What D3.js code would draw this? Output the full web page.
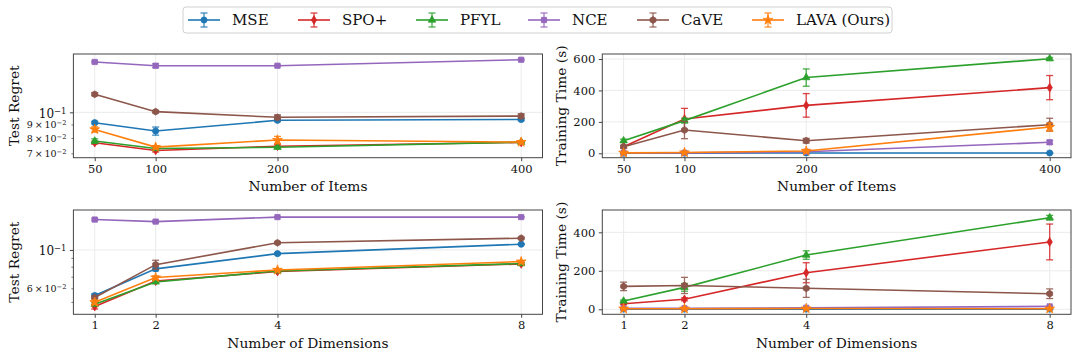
<!DOCTYPE html>
<html>
<head>
<meta charset="utf-8">
<script src="https://cdn.jsdelivr.net/npm/d3@7"></script>
<style>
  body { margin: 0; background: #fff; }
  svg { font-family: "DejaVu Serif", serif; }
</style>
</head>
<body>
<svg id="chart" width="1079" height="358"></svg>
<script>
// Categories and series
var items = [50, 100, 200, 400];
var dims = [1, 2, 4, 8];
var methods = ["MSE", "SPO+", "PFYL", "NCE", "CaVE", "LAVA (Ours)"];
var colors = ["#1f77b4", "#d62728", "#2ca02c", "#9467bd", "#8c564b", "#ff7f0e"];

// Test regret vs number of items (rows follow methods order)
var regretItems = [
  [0.0914, 0.0850, 0.0933, 0.0940],
  [0.0768, 0.0718, 0.0745, 0.0770],
  [0.0779, 0.0730, 0.0738, 0.0772],
  [0.155, 0.150, 0.150, 0.158],
  [0.117, 0.1006, 0.0958, 0.0968],
  [0.0862, 0.0739, 0.0786, 0.0772]
];
var regretItemsErr = [
  [0.001, 0.003, 0.001, 0.001],
  [0.001, 0.001, 0.001, 0.0005],
  [0.0015, 0.001, 0.0005, 0.0005],
  [0.001, 0.0025, 0.001, 0.001],
  [0.0015, 0.001, 0.002, 0.002],
  [0.002, 0.001, 0.0025, 0.001]
];

// Training time vs number of items
var timeItems = [
  [1, 1, 2, 2],
  [42, 218, 305, 418],
  [80, 208, 482, 602],
  [2, 3, 10, 70],
  [42, 148, 80, 182],
  [3, 5, 15, 167]
];
var timeItemsErr = [
  [0.5, 0.5, 1, 1],
  [8, 68, 75, 77],
  [10, 15, 55, 8],
  [1, 1, 2, 12],
  [8, 55, 15, 41],
  [1, 2, 8, 25]
];

// Test regret vs number of dimensions
var regretDims = [
  [0.0545, 0.0777, 0.0952, 0.108],
  [0.0470, 0.0660, 0.0750, 0.0830],
  [0.0485, 0.0653, 0.0756, 0.0834],
  [0.150, 0.146, 0.155, 0.155],
  [0.0530, 0.0822, 0.110, 0.117],
  [0.0498, 0.0692, 0.0766, 0.0856]
];
var regretDimsErr = [
  [0.0012, 0.002, 0.001, 0.0008],
  [0.0015, 0.001, 0.001, 0.001],
  [0.001, 0.001, 0.001, 0.001],
  [0.002, 0.002, 0.001, 0.001],
  [0.001, 0.005, 0.001, 0.001],
  [0.0015, 0.0015, 0.001, 0.001]
];

// Training time vs number of dimensions
var timeDims = [
  [1, 1, 1, 1],
  [29, 52, 190, 350],
  [43, 114, 282, 476],
  [5, 5, 8, 15],
  [119, 124, 109, 81],
  [3, 3, 4, 3]
];
var timeDimsErr = [
  [0.3, 0.3, 0.3, 0.3],
  [5, 8, 52, 93],
  [5, 20, 22, 12],
  [1, 1, 2, 3],
  [22, 42, 47, 25],
  [1, 1, 1, 1]
];

var svg = d3.select('#chart');

// Marker shapes (matplotlib-ish o, d, ^, s, h, *)
var hexagon = {
  draw: function(ctx, size) {
    var r = Math.sqrt(size / (1.5 * Math.sqrt(3)));
    for (var k = 0; k < 6; k++) {
      var a = Math.PI / 3 * k - Math.PI / 2;
      if (k === 0) ctx.moveTo(r * Math.cos(a), r * Math.sin(a));
      else ctx.lineTo(r * Math.cos(a), r * Math.sin(a));
    }
    ctx.closePath();
  }
};
var thinDiamond = {
  draw: function(ctx, size) {
    var r = Math.sqrt(size) * 0.75;
    ctx.moveTo(0, -r);
    ctx.lineTo(r * 0.6, 0);
    ctx.lineTo(0, r);
    ctx.lineTo(-r * 0.6, 0);
    ctx.closePath();
  }
};
var markerTypes = [d3.symbolCircle, thinDiamond, d3.symbolTriangle, d3.symbolSquare, hexagon, d3.symbolStar];
var markerSizes = [30, 34, 24, 28, 30, 30];

function drawMarker(sel, i, cx, cy) {
  sel.append('path')
    .attr('d', d3.symbol().type(markerTypes[i]).size(markerSizes[i])())
    .attr('transform', 'translate(' + cx + ',' + cy + ')')
    .attr('fill', colors[i])
    .attr('stroke', colors[i])
    .attr('stroke-width', 0.8);
}

// Superscript formatting for log ticks
function logLabel(textSel, v, fontSize) {
  var e = Math.floor(Math.log10(v) + 1e-9);
  var m = Math.round(v / Math.pow(10, e));
  textSel.attr('font-size', fontSize);
  textSel.append('tspan').text(m === 1 ? '10' : m + '\u2009\u00d7\u200910');
  textSel.append('tspan')
    .attr('dy', '-0.45em')
    .attr('font-size', fontSize * 0.7)
    .text('\u2212' + Math.abs(e));
}

var panels = [
  { left: 73.4, right: 542.5, top: 54, bottom: 157.7, xs: items, xdom: [32.5, 417.5],
    log: true, ydom: [0.0674, 0.1661], major: [0.1], minor: [0.07, 0.08, 0.09], minorLabels: true,
    data: regretItems, err: regretItemsErr, ylabel: 'Test Regret', ylabelX: 14, xlabel: 'Number of Items' },
  { left: 602.3, right: 1071, top: 54, bottom: 157.7, xs: items, xdom: [32.5, 417.5],
    log: false, ydom: [-28, 632], major: [0, 200, 400, 600],
    data: timeItems, err: timeItemsErr, ylabel: 'Training Time (s)', ylabelX: 561, xlabel: 'Number of Items' },
  { left: 73.4, right: 542.5, top: 210, bottom: 314.3, xs: dims, xdom: [0.65, 8.35],
    log: true, ydom: [0.0424, 0.1704], major: [0.1], minor: [0.05, 0.06, 0.07, 0.08, 0.09], minorLabels: false, labelOnly: [0.06],
    data: regretDims, err: regretDimsErr, ylabel: 'Test Regret', ylabelX: 14, xlabel: 'Number of Dimensions' },
  { left: 602.3, right: 1071, top: 210, bottom: 314.3, xs: dims, xdom: [0.65, 8.35],
    log: false, ydom: [-26, 516], major: [0, 200, 400],
    data: timeDims, err: timeDimsErr, ylabel: 'Training Time (s)', ylabelX: 561, xlabel: 'Number of Dimensions' }
];

var gridColor = '#ebebeb';
var frameColor = '#444';

panels.forEach(function(p) {
  var x = d3.scaleLinear().domain(p.xdom).range([p.left, p.right]);
  var y = (p.log ? d3.scaleLog() : d3.scaleLinear()).domain(p.ydom).range([p.bottom, p.top]);
  var g = svg.append('g');

  // grid
  g.selectAll('.vgrid').data(p.xs).enter().append('line')
    .attr('x1', function(d) { return x(d); }).attr('x2', function(d) { return x(d); })
    .attr('y1', p.top).attr('y2', p.bottom)
    .attr('stroke', gridColor).attr('stroke-width', 1);
  g.selectAll('.hgrid').data(p.major).enter().append('line')
    .attr('x1', p.left).attr('x2', p.right)
    .attr('y1', function(d) { return y(d); }).attr('y2', function(d) { return y(d); })
    .attr('stroke', gridColor).attr('stroke-width', 1);

  // x axis
  var xAxis = g.append('g')
    .attr('transform', 'translate(0,' + p.bottom + ')')
    .call(d3.axisBottom(x).tickValues(p.xs).tickSize(3.5).tickPadding(3.5).tickFormat(d3.format('d')));
  xAxis.select('.domain').remove();
  xAxis.selectAll('line').attr('stroke', frameColor);
  xAxis.selectAll('text').attr('font-size', 11.5).attr('font-family', 'DejaVu Serif').attr('fill', '#111');

  // y axis
  if (p.log) {
    var yMajor = g.append('g').attr('transform', 'translate(' + p.left + ',0)')
      .call(d3.axisLeft(y).tickValues(p.major).tickSize(3.5).tickPadding(3.5).tickFormat(''));
    yMajor.select('.domain').remove();
    yMajor.selectAll('line').attr('stroke', frameColor);
    yMajor.selectAll('.tick text').each(function(d) {
      var t = d3.select(this).attr('font-family', 'DejaVu Serif').attr('fill', '#111').attr('dy', '0.4em');
      t.text('');
      logLabel(t, d, 12);
    });
    var yMinor = g.append('g').attr('transform', 'translate(' + p.left + ',0)')
      .call(d3.axisLeft(y).tickValues(p.minor).tickSize(2).tickPadding(5).tickFormat(''));
    yMinor.select('.domain').remove();
    yMinor.selectAll('line').attr('stroke', frameColor).attr('stroke-width', 0.7);
    yMinor.selectAll('.tick text').each(function(d) {
      var t = d3.select(this).attr('font-family', 'DejaVu Serif').attr('fill', '#111').attr('dy', '0.35em');
      t.text('');
      var show = p.minorLabels || (p.labelOnly && p.labelOnly.some(function(v) { return Math.abs(v - d) < 1e-9; }));
      if (show) logLabel(t, d, 9.5);
    });
  } else {
    var yAxis = g.append('g').attr('transform', 'translate(' + p.left + ',0)')
      .call(d3.axisLeft(y).tickValues(p.major).tickSize(3.5).tickPadding(3.5).tickFormat(d3.format('d')));
    yAxis.select('.domain').remove();
    yAxis.selectAll('line').attr('stroke', frameColor);
    yAxis.selectAll('text').attr('font-size', 11.5).attr('font-family', 'DejaVu Serif').attr('fill', '#111');
  }

  // series
  var line = d3.line()
    .x(function(d, j) { return x(p.xs[j]); })
    .y(function(d) { return y(d); });
  p.data.forEach(function(vals, i) {
    var s = g.append('g');
    s.append('path')
      .attr('d', line(vals))
      .attr('fill', 'none')
      .attr('stroke', colors[i])
      .attr('stroke-width', 1.6);
    vals.forEach(function(v, j) {
      var cx = x(p.xs[j]);
      var e = p.err[i][j];
      var y0 = y(v - e), y1 = y(v + e);
      s.append('line').attr('x1', cx).attr('x2', cx).attr('y1', y0).attr('y2', y1)
        .attr('stroke', colors[i]).attr('stroke-width', 1.3).attr('opacity', 0.85);
      [y0, y1].forEach(function(yy) {
        s.append('line').attr('x1', cx - 3.5).attr('x2', cx + 3.5).attr('y1', yy).attr('y2', yy)
          .attr('stroke', colors[i]).attr('stroke-width', 1.3).attr('opacity', 0.85);
      });
      drawMarker(s, i, cx, y(v));
    });
  });

  // frame
  g.append('rect')
    .attr('x', p.left).attr('y', p.top)
    .attr('width', p.right - p.left).attr('height', p.bottom - p.top)
    .attr('fill', 'none').attr('stroke', frameColor).attr('stroke-width', 1);

  // labels
  g.append('text')
    .attr('x', (p.left + p.right) / 2)
    .attr('y', p.bottom + 33.5)
    .attr('text-anchor', 'middle')
    .attr('font-size', 13.8)
    .attr('fill', '#111')
    .text(p.xlabel);
  g.append('text')
    .attr('transform', 'translate(' + p.ylabelX + ',' + ((p.top + p.bottom) / 2) + ') rotate(-90)')
    .attr('text-anchor', 'middle')
    .attr('dy', '0.35em')
    .attr('font-size', 13.8)
    .attr('fill', '#111')
    .text(p.ylabel);
});

// legend
var legendX = [188, 298, 416, 528, 637, 752];
var legend = svg.append('g');
legend.append('rect')
  .attr('x', 183).attr('y', 7).attr('width', 709).attr('height', 26)
  .attr('rx', 3)
  .attr('fill', '#fff').attr('stroke', '#d0d0d0').attr('stroke-width', 1);
methods.forEach(function(m, i) {
  var lx = legendX[i], ly = 20;
  var e = legend.append('g');
  e.append('line').attr('x1', lx).attr('x2', lx + 32).attr('y1', ly).attr('y2', ly)
    .attr('stroke', colors[i]).attr('stroke-width', 1.6);
  e.append('line').attr('x1', lx + 16).attr('x2', lx + 16).attr('y1', ly - 7).attr('y2', ly + 7)
    .attr('stroke', colors[i]).attr('stroke-width', 1.3).attr('opacity', 0.85);
  [ly - 7, ly + 7].forEach(function(yy) {
    e.append('line').attr('x1', lx + 12.5).attr('x2', lx + 19.5).attr('y1', yy).attr('y2', yy)
      .attr('stroke', colors[i]).attr('stroke-width', 1.3).attr('opacity', 0.85);
  });
  drawMarker(e, i, lx + 16, ly);
  e.append('text')
    .attr('x', lx + 44).attr('y', ly)
    .attr('dy', '0.36em')
    .attr('font-size', 15)
    .attr('fill', '#111')
    .text(m);
});
</script>
</body>
</html>
